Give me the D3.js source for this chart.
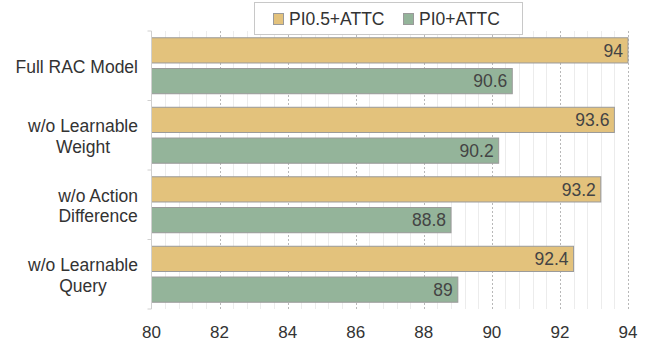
<!DOCTYPE html>
<html>
<head>
<meta charset="utf-8">
<script src="https://cdn.jsdelivr.net/npm/d3@7/dist/d3.min.js"></script>
<style>
  html, body { margin: 0; padding: 0; background: #fff; }
  svg { display: block; font-family: "Liberation Sans", Arial, sans-serif; }
</style>
</head>
<body>
<svg id="chart" width="650" height="341"></svg>
<script>
// Ablation variants (top to bottom)
const categories = [
  ["Full RAC Model"],
  ["w/o Learnable", "Weight"],
  ["w/o Action", "Difference"],
  ["w/o Learnable", "Query"]
];
const seriesNames = ["PI0.5+ATTC", "PI0+ATTC"];
const pi05Values = [94, 93.6, 93.2, 92.4];
const pi0Values = [90.6, 90.2, 88.8, 89];
const xTicks = [80, 82, 84, 86, 88, 90, 92, 94];
const colors = ["#e3c27c", "#94b49a"];

const svg = d3.select("#chart");
const margin = { left: 151.5, right: 22, top: 31, bottom: 32 };
const W = 650, H = 341;

const x = d3.scaleLinear().domain([80, 94]).range([margin.left, W - margin.right]);
const y = d3.scaleBand().domain(d3.range(categories.length))
  .range([margin.top, H - margin.bottom]);
const inner = d3.scaleBand().domain([0, 1]).range([0, y.bandwidth()])
  .paddingInner(0.18).paddingOuter(0.22);

// Minor grid
const minor = d3.range(80, 94.001, 0.4).filter(v => Math.abs(v / 2 - Math.round(v / 2)) > 1e-6);
svg.append("g").selectAll("line").data(minor).join("line")
  .attr("x1", d => Math.round(x(d)) + 0.5).attr("x2", d => Math.round(x(d)) + 0.5)
  .attr("y1", margin.top).attr("y2", H - margin.bottom)
  .attr("stroke", "#ececec").attr("stroke-width", 1);

// Major grid
svg.append("g").selectAll("line").data(xTicks.slice(1)).join("line")
  .attr("x1", d => Math.round(x(d)) + 0.5).attr("x2", d => Math.round(x(d)) + 0.5)
  .attr("y1", margin.top).attr("y2", H - margin.bottom)
  .attr("stroke", "#b8b8b8").attr("stroke-width", 1).attr("stroke-dasharray", "2,2");

// Bars
const rows = categories.map((c, i) => ({ i, vals: [pi05Values[i], pi0Values[i]] }));
const groups = svg.append("g").selectAll("g").data(rows).join("g")
  .attr("transform", d => `translate(0,${y(d.i)})`);

groups.selectAll("rect").data(d => d.vals.map((v, k) => ({ v, k }))).join("rect")
  .attr("x", x(80))
  .attr("y", d => inner(d.k))
  .attr("width", d => x(d.v) - x(80))
  .attr("height", inner.bandwidth())
  .attr("fill", d => colors[d.k])
  .attr("stroke", "#9a9a9a").attr("stroke-width", 1);

groups.selectAll("text").data(d => d.vals.map((v, k) => ({ v, k }))).join("text")
  .attr("x", d => x(d.v) - 5)
  .attr("y", d => inner(d.k) + inner.bandwidth() / 2)
  .attr("dy", "0.36em")
  .attr("text-anchor", "end")
  .attr("font-size", 17.5)
  .attr("fill", "#444")
  .text(d => d.v);

// Y axis line and category separators
svg.append("line")
  .attr("x1", margin.left).attr("x2", margin.left)
  .attr("y1", margin.top).attr("y2", H - margin.bottom)
  .attr("stroke", "#d0d0d0");
svg.append("g").selectAll("line").data(d3.range(categories.length + 1)).join("line")
  .attr("x1", margin.left - 4).attr("x2", margin.left)
  .attr("y1", i => i < categories.length ? y(i) : y(i - 1) + y.bandwidth())
  .attr("y2", i => i < categories.length ? y(i) : y(i - 1) + y.bandwidth())
  .attr("stroke", "#d0d0d0");

// Category labels: lines centred within a block whose right edge sits left of the axis
const labelRight = 138;
const catG = svg.append("g");
categories.forEach((lines, i) => {
  const cy = y(i) + y.bandwidth() / 2;
  const lh = 20.5;
  const t = catG.append("text")
    .attr("text-anchor", "middle")
    .attr("font-size", 17.5)
    .attr("fill", "#333");
  const spans = lines.map((ln, j) => t.append("tspan")
    .attr("y", cy + 1 + (j - (lines.length - 1) / 2) * lh)
    .attr("dy", "0.36em")
    .text(ln));
  const widest = d3.max(spans, s => s.node().getComputedTextLength());
  spans.forEach(s => s.attr("x", labelRight - widest / 2));
});

// X axis tick labels
svg.append("g").selectAll("text").data(xTicks).join("text")
  .attr("x", d => x(d))
  .attr("y", 337.5)
  .attr("text-anchor", "middle")
  .attr("font-size", 17)
  .attr("fill", "#333")
  .text(d => d);

// Legend
const lg = svg.append("g");
lg.append("rect").attr("x", 254.5).attr("y", 2.5).attr("width", 268).attr("height", 32)
  .attr("fill", "#fff").attr("stroke", "#c8c8c8");
const legendX = [273, 403];
seriesNames.forEach((name, k) => {
  lg.append("rect").attr("x", legendX[k] + 0.5).attr("y", 13.5).attr("width", 10).attr("height", 11)
    .attr("fill", colors[k]).attr("stroke", "#9a9a9a");
  lg.append("text").attr("x", legendX[k] + 16).attr("y", 19).attr("dy", "0.36em")
    .attr("font-size", 17.5).attr("fill", "#333").text(name);
});
</script>
</body>
</html>
